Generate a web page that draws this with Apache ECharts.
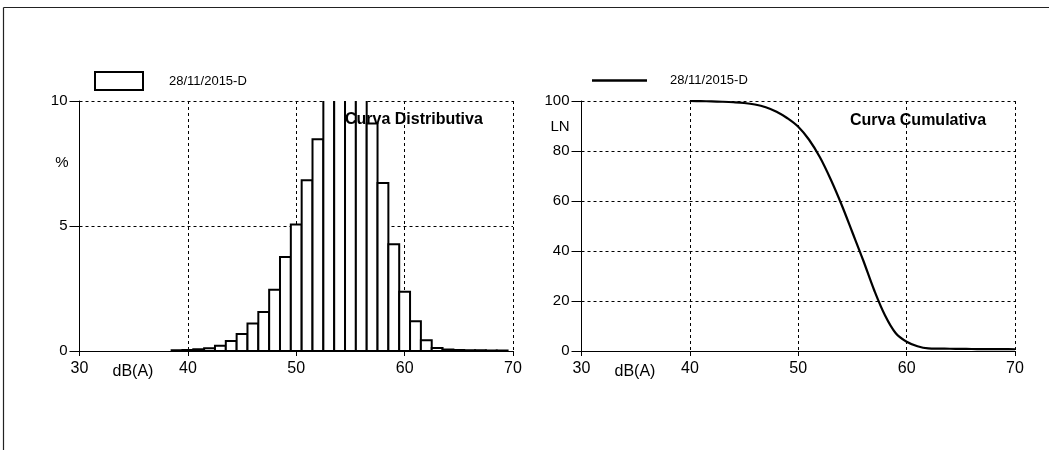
<!DOCTYPE html>
<html>
<head>
<meta charset="utf-8">
<script src="https://cdn.jsdelivr.net/npm/echarts@6/dist/echarts.min.js"></script>
<style>
  html, body { margin: 0; padding: 0; background: #fff; }
  #chart { width: 1049px; height: 450px; }
</style>
</head>
<body>
<div id="chart"></div>
<script>
// Sound level distribution (1 dB classes) and cumulative exceedance curve
const seriesName = '28/11/2015-D';

// Histogram: class centre (dB(A)) and share of time (%)
const histLevels = [39, 40, 41, 42, 43, 44, 45, 46, 47, 48, 49, 50, 51, 52, 53, 54,
                    55, 56, 57, 58, 59, 60, 61, 62, 63, 64, 65, 66, 67, 68, 69];
const histPercent = [0.03, 0.04, 0.07, 0.11, 0.21, 0.40, 0.68, 1.10, 1.56, 2.45, 3.76,
                     5.06, 6.83, 8.47, 10.8, 11.5, 11.6, 11.1, 9.10, 6.72, 4.27, 2.37,
                     1.19, 0.43, 0.12, 0.06, 0.04, 0.03, 0.03, 0.02, 0.02];

// Cumulative curve: level (dB(A)) and LN (% of time exceeded)
const cumLevels = [40, 41, 42, 43, 44, 45, 46, 47, 48, 49, 50, 51, 52, 53, 54, 55,
                   56, 57, 58, 59, 60, 61, 62, 63, 64, 65, 66, 67, 68, 69, 70];
const cumLN = [100, 99.95, 99.85, 99.7, 99.5, 99.2, 98.6, 97.5, 95.7, 93.1, 89.7,
               84.5, 77.5, 68.6, 58.5, 47.4, 36.2, 24.4, 14.3, 7.1, 3.7, 1.9, 1.05,
               0.95, 0.9, 0.85, 0.8, 0.78, 0.75, 0.72, 0.7];

// Axis ticks
const xTicks = { min: 30, max: 70, interval: 10 };
const yTicksPct = { min: 0, max: 10, interval: 5 };
const yTicksLN = { min: 0, max: 100, interval: 20 };

const FONT = '"Liberation Sans", Arial, sans-serif';

const chart = echarts.init(document.getElementById('chart'), null, { renderer: 'canvas' });

function xAxisFor(gridIndex) {
  return {
    type: 'value', gridIndex,
    min: xTicks.min, max: xTicks.max, interval: xTicks.interval,
    axisLine: { show: true, onZero: false, lineStyle: { color: '#000', width: 1 } },
    axisTick: { show: true, length: 5, lineStyle: { color: '#000' } },
    axisLabel: { color: '#000', fontFamily: FONT, fontSize: 16, margin: 10 },
    splitLine: { show: true, lineStyle: { color: '#000', width: 1, type: [3, 3] } }
  };
}
function yAxisFor(gridIndex, t) {
  return {
    type: 'value', gridIndex,
    min: t.min, max: t.max, interval: t.interval,
    axisLine: { show: true, lineStyle: { color: '#000', width: 1 } },
    axisTick: { show: true, length: 10, lineStyle: { color: '#000' } },
    axisLabel: { color: '#000', fontFamily: FONT, fontSize: 15, margin: 12 },
    splitLine: { show: true, lineStyle: { color: '#000', width: 1, type: [3, 3] } }
  };
}

const barData = histLevels.map((lv, i) => [lv, histPercent[i]]);
const lineData = cumLevels.map((lv, i) => [lv, cumLN[i]]);

const option = {
  backgroundColor: '#fff',
  animation: false,
  textStyle: { fontFamily: FONT },
  grid: [
    { left: 79.5, top: 101, width: 433.5, height: 250, containLabel: false, outerBoundsMode: 'none' },
    { left: 581.5, top: 101, width: 433.5, height: 250, containLabel: false, outerBoundsMode: 'none' }
  ],
  xAxis: [xAxisFor(0), xAxisFor(1)],
  yAxis: [yAxisFor(0, yTicksPct), yAxisFor(1, yTicksLN)],
  title: [
    { text: 'Curva Distributiva', left: 345, top: 112,
      textStyle: { fontFamily: FONT, fontSize: 16, fontWeight: 'bold', color: '#000' }, padding: 0 },
    { text: 'Curva Cumulativa', left: 850, top: 113,
      textStyle: { fontFamily: FONT, fontSize: 16, fontWeight: 'bold', color: '#000' }, padding: 0 }
  ],
  legend: [
    {
      left: 94, top: 71, padding: 0, itemWidth: 48, itemHeight: 18,
      selectedMode: false,
      data: [{ name: seriesName, icon: 'rect',
               itemStyle: { color: '#fff', borderColor: '#000', borderWidth: 2 } }],
      textStyle: { fontFamily: FONT, fontSize: 13, color: '#000', padding: [0, 0, 0, 21] }
    },
    {
      left: 592, top: 74, padding: 0, itemWidth: 55, itemHeight: 2.5,
      selectedMode: false,
      data: [{ name: seriesName, icon: 'rect',
               itemStyle: { color: '#000', borderWidth: 0 } }],
      textStyle: { fontFamily: FONT, fontSize: 13, color: '#000', padding: [0, 0, 0, 18] }
    }
  ],
  series: [
    {
      name: seriesName,
      type: 'custom',
      xAxisIndex: 0, yAxisIndex: 0,
      clip: true,
      z: 3,
      encode: { x: 0, y: 1 },
      data: barData,
      renderItem: function (params, api) {
        const lv = api.value(0), v = api.value(1);
        const p0 = api.coord([lv - 0.5, 0]);
        const p1 = api.coord([lv + 0.5, v]);
        return {
          type: 'rect',
          shape: { x: p0[0], y: p1[1], width: p1[0] - p0[0], height: p0[1] - p1[1] },
          style: { fill: '#fff', stroke: '#000', lineWidth: 2 }
        };
      },
      itemStyle: { color: '#fff', borderColor: '#000', borderWidth: 2 }
    },
    {
      name: seriesName,
      type: 'line',
      xAxisIndex: 1, yAxisIndex: 1,
      data: lineData,
      smooth: 0.35,
      symbol: 'none',
      showSymbol: false,
      z: 3,
      lineStyle: { color: '#000', width: 2.2 },
      itemStyle: { color: '#000' }
    }
  ],
  graphic: [
    // outer frame
    { type: 'line', shape: { x1: 3.5, y1: 7.5, x2: 1049, y2: 7.5 }, style: { stroke: '#222', lineWidth: 1.2 }, silent: true },
    { type: 'line', shape: { x1: 3.5, y1: 7.5, x2: 3.5, y2: 450 }, style: { stroke: '#222', lineWidth: 1.2 }, silent: true },
    // axis units
    { type: 'text', x: 62, y: 163, style: { text: '%', fontFamily: FONT, fontSize: 15, fill: '#000', align: 'center', verticalAlign: 'middle' }, silent: true },
    { type: 'text', x: 560, y: 127, style: { text: 'LN', fontFamily: FONT, fontSize: 15, fill: '#000', align: 'center', verticalAlign: 'middle' }, silent: true },
    { type: 'text', x: 133, y: 372, style: { text: 'dB(A)', fontFamily: FONT, fontSize: 16, fill: '#000', align: 'center', verticalAlign: 'middle' }, silent: true },
    { type: 'text', x: 635, y: 372, style: { text: 'dB(A)', fontFamily: FONT, fontSize: 16, fill: '#000', align: 'center', verticalAlign: 'middle' }, silent: true }
  ]
};

chart.setOption(option);
</script>
</body>
</html>
